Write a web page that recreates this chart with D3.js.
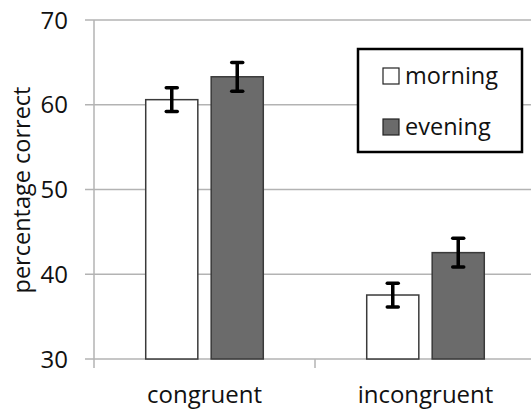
<!DOCTYPE html>
<html lang="en">
<head>
<meta charset="UTF-8">
<title>Chart</title>
<style>
body { margin: 0; background: #fff; font-family: 'Open Sans', sans-serif; }
.grid line { stroke: #b3b3b3; stroke-width: 1.5; }
.tick-label { font-size: 24px; fill: #111; }
.cat-label { font-size: 24px; fill: #111; }
.legend text { font-size: 23.5px; fill: #111; }
</style>
</head>
<body>
<div id="chart"></div>
<script src="https://cdnjs.cloudflare.com/ajax/libs/d3/7.8.5/d3.min.js"></script>
<script>
var categories = ["congruent", "incongruent"];
var seriesNames = ["morning", "evening"];
var morning = [60.6, 37.55];
var evening = [63.3, 42.55];
var morningErr = [1.4, 1.4];
var eveningErr = [1.7, 1.7];
var yTicks = [30, 40, 50, 60, 70];
var seriesColors = ["#ffffff", "#6b6b6b"];

var width = 531, height = 409;
var m = { left: 94, right: 536, top: 20, bottom: 359 };

var svg = d3.select('#chart').append('svg')
  .attr('width', width).attr('height', height);

var y = d3.scaleLinear().domain([30, 70]).range([m.bottom, m.top]);
var x0 = d3.scaleBand().domain(categories).range([m.left, m.right]);
var x1 = d3.scaleBand().domain(seriesNames).range([0, x0.bandwidth()]).paddingInner(0.204).paddingOuter(0.79);

// gridlines
var grid = svg.append('g').attr('class', 'grid');
grid.selectAll('.hline').data(yTicks).enter().append('line')
  .attr('class', 'hline')
  .attr('x1', m.left - 9).attr('x2', width)
  .attr('y1', function (d) { return y(d); })
  .attr('y2', function (d) { return y(d); });
grid.append('line').attr('x1', m.left).attr('x2', m.left).attr('y1', m.top).attr('y2', m.bottom + 9);
grid.selectAll('.ctick').data(categories.slice(1)).enter().append('line')
  .attr('class', 'ctick')
  .attr('x1', function (d) { return x0(d); }).attr('x2', function (d) { return x0(d); })
  .attr('y1', m.bottom).attr('y2', m.bottom + 9);

svg.selectAll('.tick-label').data(yTicks).enter().append('text')
  .attr('class', 'tick-label')
  .attr('x', m.left - 26).attr('y', function (d) { return y(d); })
  .attr('dy', '0.36em').attr('text-anchor', 'end')
  .text(function (d) { return d; });

svg.append('text').attr('class', 'cat-label')
  .attr('transform', 'translate(30,' + 190 + ') rotate(-90)')
  .attr('text-anchor', 'middle').style('font-size', '23.5px')
  .text('percentage correct');

svg.selectAll('.cat-label-x').data(categories).enter().append('text')
  .attr('class', 'cat-label')
  .attr('x', function (d) { return x0(d) + x0.bandwidth() / 2; })
  .attr('y', 403).attr('text-anchor', 'middle')
  .text(function (d) { return d; });

var data = [];
categories.forEach(function (c, i) {
  data.push({ cat: c, s: 'morning', v: morning[i], e: morningErr[i], col: seriesColors[0] });
  data.push({ cat: c, s: 'evening', v: evening[i], e: eveningErr[i], col: seriesColors[1] });
});

svg.selectAll('.bar').data(data).enter().append('rect')
  .attr('class', 'bar')
  .attr('x', function (d) { return x0(d.cat) + x1(d.s); })
  .attr('width', x1.bandwidth())
  .attr('y', function (d) { return y(d.v); })
  .attr('height', function (d) { return m.bottom - y(d.v); })
  .attr('fill', function (d) { return d.col; })
  .attr('stroke', '#3a3a3a').attr('stroke-width', 1.5);

var eb = svg.selectAll('.err').data(data).enter().append('g').attr('class', 'err')
  .attr('stroke', '#000').attr('stroke-width', 3.5);
eb.append('line')
  .attr('x1', function (d) { return x0(d.cat) + x1(d.s) + x1.bandwidth() / 2; })
  .attr('x2', function (d) { return x0(d.cat) + x1(d.s) + x1.bandwidth() / 2; })
  .attr('y1', function (d) { return y(d.v + d.e); })
  .attr('y2', function (d) { return y(d.v - d.e); });
[1, -1].forEach(function (sgn) {
  eb.append('line')
    .attr('stroke-linecap', 'round')
    .attr('x1', function (d) { return x0(d.cat) + x1(d.s) + x1.bandwidth() / 2 - 5.5; })
    .attr('x2', function (d) { return x0(d.cat) + x1(d.s) + x1.bandwidth() / 2 + 5.5; })
    .attr('y1', function (d) { return y(d.v + sgn * d.e); })
    .attr('y2', function (d) { return y(d.v + sgn * d.e); });
});

// legend
var legend = svg.append('g').attr('class', 'legend');
legend.append('rect').attr('x', 358).attr('y', 49).attr('width', 164).attr('height', 103)
  .attr('fill', '#fff').attr('stroke', '#000').attr('stroke-width', 2.5);
var li = legend.selectAll('.li').data(seriesNames).enter().append('g')
  .attr('transform', function (d, i) { return 'translate(383,' + (68 + i * 51) + ')'; });
li.append('rect').attr('width', 16).attr('height', 16)
  .attr('fill', function (d, i) { return seriesColors[i]; })
  .attr('stroke', '#222').attr('stroke-width', 1.2);
li.append('text').attr('x', 22).attr('y', 8).attr('dy', '0.36em')
  .text(function (d) { return d; });
</script>
</body>
</html>
